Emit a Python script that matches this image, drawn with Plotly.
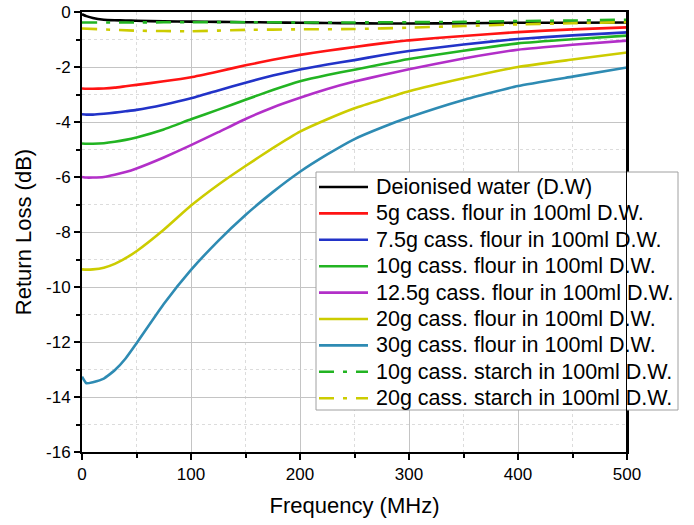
import plotly.graph_objects as go

# ---- data ----
freq = [0, 4, 10, 20, 30, 40, 50, 75, 100, 125, 150, 175, 200, 225, 250, 275, 300, 350, 400, 450, 500]

dw = [-0.08, -0.15, -0.22, -0.28, -0.30, -0.31, -0.32, -0.34, -0.35, -0.36, -0.37, -0.38, -0.39, -0.40, -0.41, -0.42, -0.42, -0.41, -0.39, -0.39, -0.38]
flour_5 = [-2.78, -2.79, -2.79, -2.78, -2.75, -2.70, -2.65, -2.52, -2.37, -2.16, -1.94, -1.74, -1.56, -1.41, -1.27, -1.14, -1.03, -0.87, -0.73, -0.63, -0.56]
flour_7_5 = [-3.72, -3.73, -3.73, -3.70, -3.66, -3.61, -3.56, -3.37, -3.14, -2.85, -2.57, -2.31, -2.09, -1.91, -1.75, -1.57, -1.42, -1.18, -0.98, -0.85, -0.74]
flour_10 = [-4.78, -4.79, -4.79, -4.77, -4.72, -4.65, -4.56, -4.27, -3.90, -3.55, -3.19, -2.84, -2.52, -2.29, -2.10, -1.90, -1.71, -1.41, -1.14, -0.99, -0.86]
flour_12_5 = [-6.00, -6.02, -6.02, -6.00, -5.92, -5.82, -5.69, -5.29, -4.84, -4.37, -3.89, -3.47, -3.12, -2.80, -2.53, -2.30, -2.08, -1.69, -1.37, -1.19, -1.04]
flour_20 = [-9.36, -9.37, -9.36, -9.30, -9.16, -8.95, -8.70, -7.92, -7.04, -6.28, -5.60, -4.95, -4.35, -3.90, -3.50, -3.18, -2.88, -2.41, -2.00, -1.73, -1.47]
flour_30 = [-13.26, -13.50, -13.46, -13.33, -13.03, -12.60, -12.05, -10.62, -9.38, -8.32, -7.38, -6.55, -5.81, -5.18, -4.62, -4.20, -3.83, -3.20, -2.69, -2.35, -2.02]

freq_s = [0, 50, 100, 150, 200, 250, 300, 350, 400, 450, 500]
starch_10 = [-0.38, -0.38, -0.37, -0.37, -0.38, -0.38, -0.37, -0.36, -0.33, -0.31, -0.28]
starch_20 = [-0.60, -0.68, -0.70, -0.65, -0.63, -0.62, -0.57, -0.51, -0.45, -0.41, -0.37]

names = [
    "Deionised water (D.W)",
    "5g cass. flour in 100ml D.W.",
    "7.5g cass. flour in 100ml D.W.",
    "10g cass. flour in 100ml D.W.",
    "12.5g cass. flour in 100ml D.W.",
    "20g cass. flour in 100ml D.W.",
    "30g cass. flour in 100ml D.W.",
    "10g cass. starch in 100ml D.W.",
    "20g cass. starch in 100ml D.W.",
]
colors = ["#000000", "#FF1414", "#2233C8", "#22B422", "#B22FC8", "#CCCC00", "#2E8BB3", "#22B422", "#CCCC00"]

x_ticks = [0, 100, 200, 300, 400, 500]
y_ticks = [0, -2, -4, -6, -8, -10, -12, -14, -16]
y_ticktext = ["0", "-2", "-4", "-6", "-8", "-10", "-12", "-14", "-16"]

DASHDOT = "15px,9px,4px,9px"
series = [
    (freq, dw, "solid"),
    (freq, flour_5, "solid"),
    (freq, flour_7_5, "solid"),
    (freq, flour_10, "solid"),
    (freq, flour_12_5, "solid"),
    (freq, flour_20, "solid"),
    (freq, flour_30, "solid"),
    (freq_s, starch_10, DASHDOT),
    (freq_s, starch_20, DASHDOT),
]

FONT = "Liberation Sans, Arial, sans-serif"
LW = 2.6

# The page body margin is removed by a post script, so the figure fills the window.
FIG_W, FIG_H = 694, 525
PL, PR, PT, PB = 82, 627, 12, 452  # plot area in pixels
PW, PH = PR - PL, PB - PT

fig = go.Figure()
for (xs, ys, dash), name, col in zip(series, names, colors):
    fig.add_trace(go.Scatter(
        x=xs, y=ys, mode="lines", name=name, showlegend=False, hoverinfo="skip",
        line=dict(color=col, width=LW, dash=dash, shape="spline", smoothing=0.4),
    ))

axis_common = dict(
    showline=True, linecolor="black", linewidth=2, mirror=True,
    ticks="outside", tickcolor="black", tickwidth=1.5, ticklen=6,
    showgrid=True, gridcolor="#c4c4c4", gridwidth=1,
    zeroline=False, automargin=False, ticklabeloverflow="allow",
    tickfont=dict(family=FONT, size=17, color="black"),
)

fig.update_xaxes(
    range=[0, 500], tickvals=x_ticks,
    minor=dict(dtick=50, ticks="outside", ticklen=4, tickcolor="black", tickwidth=1.5,
               showgrid=True, gridcolor="#dcdcdc", griddash="dot", gridwidth=1),
    title=dict(text="Frequency (MHz)", font=dict(family=FONT, size=22, color="black"), standoff=14),
    **axis_common,
)
fig.update_yaxes(
    range=[-16, 0], tickvals=y_ticks, ticktext=y_ticktext,
    minor=dict(dtick=1, ticks="outside", ticklen=4, tickcolor="black", tickwidth=1.5,
               showgrid=True, gridcolor="#dcdcdc", griddash="dot", gridwidth=1),
    title=dict(text="Return Loss (dB)", font=dict(family=FONT, size=22, color="black"), standoff=8),
    **axis_common,
)


def px_x(p):  # window pixel -> paper x
    return (p - PL) / PW


def px_y(p):  # window pixel -> paper y
    return (PB - p) / PH


# ---- legend box (drawn by hand so that row spacing matches) ----
box_l, box_r, box_t, box_b = 316, 678, 172, 410
row0, row_step = 187, 26.4
fig.add_shape(type="rect", xref="paper", yref="paper",
              x0=px_x(box_l), x1=px_x(box_r), y0=px_y(box_b), y1=px_y(box_t),
              fillcolor="white", line=dict(color="#a0a0a0", width=1), layer="above")
for i, ((xs, ys, dash), name, col) in enumerate(zip(series, names, colors)):
    yc = row0 + i * row_step
    fig.add_shape(type="line", xref="paper", yref="paper",
                  x0=px_x(319), x1=px_x(368), y0=px_y(yc), y1=px_y(yc),
                  line=dict(color=col, width=LW, dash=dash), layer="above")
    fig.add_annotation(xref="paper", yref="paper", x=px_x(374), y=px_y(yc),
                       xanchor="left", yanchor="middle", showarrow=False,
                       text=name, font=dict(family=FONT, size=21.5, color="black"))

# right frame line stays visible over the legend, as in the reference
fig.add_shape(type="line", xref="x", yref="y", x0=500, x1=500, y0=-16, y1=0,
              line=dict(color="black", width=2), layer="above")

fig.update_layout(
    width=FIG_W, height=FIG_H,
    margin=dict(l=PL, r=FIG_W - PR, t=PT, b=FIG_H - PB),
    paper_bgcolor="white", plot_bgcolor="white",
    font=dict(family=FONT, color="black"),
    showlegend=False, hovermode=False,
)

fig.write_html(
    "out.html",
    config={"displayModeBar": False},
    post_script="document.body.style.margin='0px';document.body.style.overflow='hidden';",
)
